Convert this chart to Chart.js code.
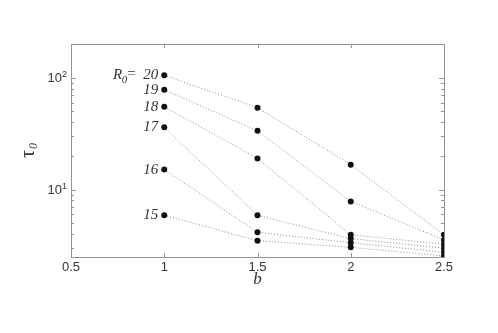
<!DOCTYPE html>
<html lang="en">
<head>
  <meta charset="UTF-8">
  <title>tau0 vs b</title>
  <script src="https://cdn.jsdelivr.net/npm/chart.js"></script>
  <style>
    html, body { margin: 0; padding: 0; background: #fff; }
    #wrap { width: 498px; height: 333px; }
  </style>
</head>
<body>
  <div id="wrap"><canvas id="chart" width="498" height="333"></canvas></div>
  <script>
    // b values on the x axis
    const bValues = [1, 1.5, 2, 2.5];
    // R0 series labels
    const r0Labels = ['20', '19', '18', '17', '16', '15'];
    // tau0 for each R0 at b = 1, 1.5, 2, 2.5
    const tau20 = [105, 54, 16.7, 3.95];
    const tau19 = [78, 33.5, 7.85, 3.55];
    const tau18 = [55, 19, 3.95, 3.25];
    const tau17 = [36, 5.9, 3.65, 3.0];
    const tau16 = [15.1, 4.16, 3.35, 2.75];
    const tau15 = [5.9, 3.5, 3.05, 2.55];
    const seriesValues = [tau20, tau19, tau18, tau17, tau16, tau15];
    // axis ticks
    const xTicks = [0.5, 1, 1.5, 2, 2.5];
    const xTickLabels = ['0.5', '1', '1.5', '2', '2.5'];
    const yMajor = [10, 100];
    const yMinor = [3, 4, 5, 6, 7, 8, 9, 20, 30, 40, 50, 60, 70, 80, 90, 200];

    const frameColor = '#8c9898';
    const textColor = '#333';

    const datasets = seriesValues.map((vals, i) => ({
      label: r0Labels[i],
      data: vals.map((v, j) => ({ x: bValues[j], y: v })),
      showLine: true,
      borderColor: '#8a8a8a',
      borderWidth: 1,
      borderDash: [1, 2],
      pointRadius: 3,
      pointBackgroundColor: '#111',
      pointBorderColor: '#111',
      pointBorderWidth: 0
    }));

    // frame, inward ticks, y labels, titles, R0 labels
    const decor = {
      id: 'decor',
      beforeDatasetsDraw(chart) {
        const { ctx, chartArea: a, scales } = chart;
        const xs = scales.x, ys = scales.y;
        ctx.save();
        ctx.strokeStyle = frameColor;
        ctx.lineWidth = 1;
        ctx.strokeRect(a.left + 0.5, a.top + 0.5, a.right - a.left, a.bottom - a.top);
        ctx.beginPath();
        xTicks.forEach(t => {
          const px = Math.round(xs.getPixelForValue(t)) + 0.5;
          ctx.moveTo(px, a.bottom); ctx.lineTo(px, a.bottom - 4);
          ctx.moveTo(px, a.top); ctx.lineTo(px, a.top + 4);
        });
        yMajor.forEach(t => {
          const py = Math.round(ys.getPixelForValue(t)) + 0.5;
          ctx.moveTo(a.left, py); ctx.lineTo(a.left + 5, py);
          ctx.moveTo(a.right, py); ctx.lineTo(a.right - 5, py);
        });
        yMinor.forEach(t => {
          const py = Math.round(ys.getPixelForValue(t)) + 0.5;
          ctx.moveTo(a.left, py); ctx.lineTo(a.left + 3, py);
          ctx.moveTo(a.right, py); ctx.lineTo(a.right - 3, py);
        });
        ctx.stroke();
        ctx.restore();
      },
      afterDatasetsDraw(chart) {
        const { ctx, chartArea: a, scales } = chart;
        const xs = scales.x, ys = scales.y;
        ctx.save();
        ctx.fillStyle = textColor;
        // y tick labels 10^1, 10^2
        yMajor.forEach((t, i) => {
          const py = ys.getPixelForValue(t);
          ctx.font = '13px "Liberation Sans", Arial, sans-serif';
          ctx.textAlign = 'right';
          ctx.textBaseline = 'middle';
          ctx.fillText('10', a.left - 9, py + 1);
          ctx.font = '9px "Liberation Sans", Arial, sans-serif';
          ctx.textAlign = 'left';
          ctx.fillText(String(i + 1), a.left - 9, py - 3);
        });
        // x title
        ctx.font = 'italic 17px "Liberation Serif", "DejaVu Serif", serif';
        ctx.textAlign = 'center';
        ctx.textBaseline = 'middle';
        ctx.fillText('b', (a.left + a.right) / 2, a.bottom + 23);
        // y title
        ctx.save();
        ctx.translate(29, 152);
        ctx.rotate(-Math.PI / 2);
        ctx.font = '20px "Liberation Serif", "DejaVu Serif", serif';
        ctx.textAlign = 'left';
        ctx.fillText('τ', -6, 0);
        ctx.font = 'italic 12px "Liberation Serif", "DejaVu Serif", serif';
        ctx.fillText('0', 3, 5);
        ctx.restore();
        // R0 labels
        ctx.font = 'italic 15px "Liberation Serif", "DejaVu Serif", serif';
        ctx.textAlign = 'right';
        ctx.textBaseline = 'middle';
        seriesValues.forEach((vals, i) => {
          const px = xs.getPixelForValue(bValues[0]);
          const py = ys.getPixelForValue(vals[0]);
          ctx.fillText(r0Labels[i], px - 6, py);
          if (i === 0) {
            const rx = px - 28;
            ctx.fillText('=', rx, py - 1);
            ctx.font = 'italic 11px "Liberation Serif", "DejaVu Serif", serif';
            ctx.fillText('0', rx - 9, py + 5);
            ctx.font = 'italic 15px "Liberation Serif", "DejaVu Serif", serif';
            ctx.fillText('R', rx - 14, py);
          }
        });
        ctx.restore();
      }
    };

    new Chart(document.getElementById('chart'), {
      type: 'scatter',
      data: { datasets },
      options: {
        responsive: false,
        animation: false,
        layout: { padding: { left: 71, right: 54, top: 44, bottom: 46 } },
        plugins: { legend: { display: false }, tooltip: { enabled: false } },
        scales: {
          x: {
            type: 'linear',
            min: 0.5,
            max: 2.5,
            border: { display: false },
            grid: { display: false, drawTicks: false },
            afterFit(scale) { scale.height = 30; },
            afterBuildTicks(scale) { scale.ticks = xTicks.map(v => ({ value: v })); },
            ticks: {
              padding: 3,
              color: textColor,
              font: { family: '"Liberation Sans", Arial, sans-serif', size: 13 },
              maxRotation: 0,
              callback: (v, i) => xTickLabels[i]
            }
          },
          y: {
            type: 'logarithmic',
            min: 2.5,
            max: 200,
            display: false
          }
        }
      },
      plugins: [decor]
    });
  </script>
</body>
</html>
